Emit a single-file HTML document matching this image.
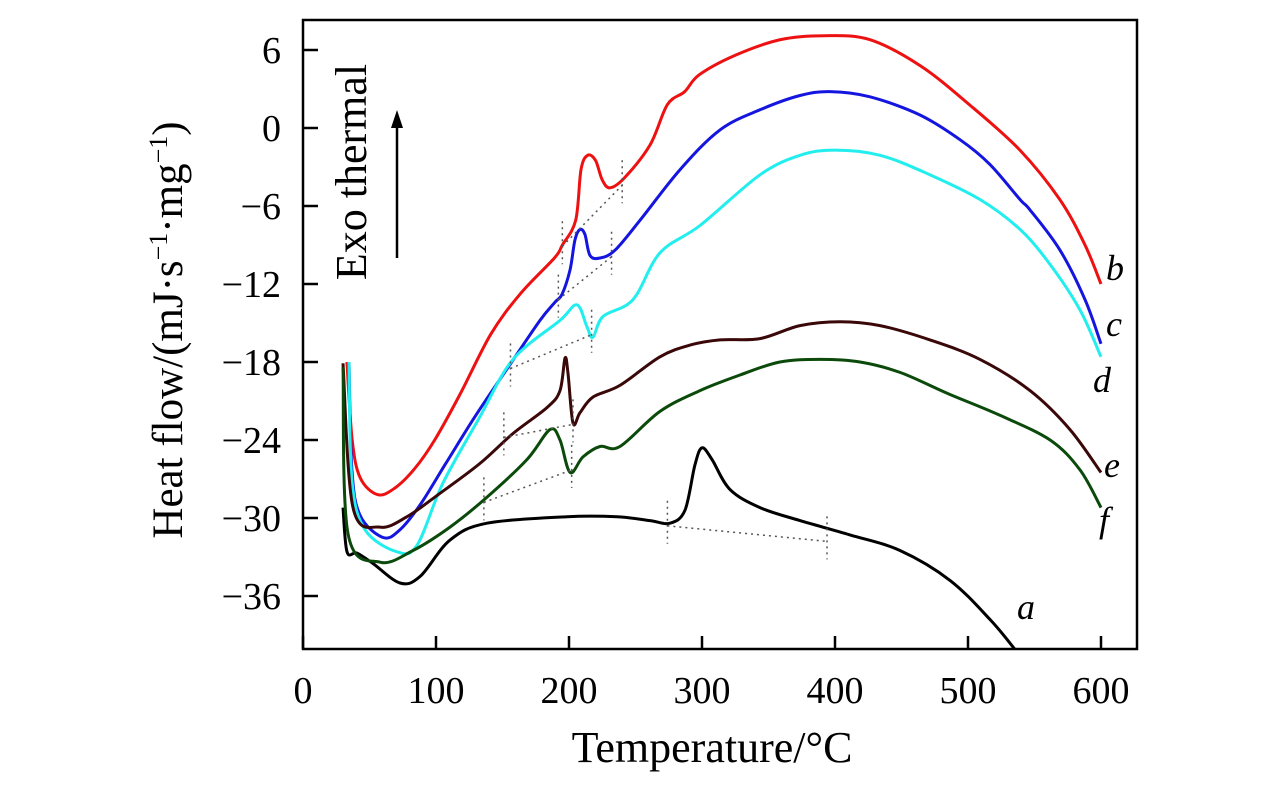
<!DOCTYPE html>
<html><head><meta charset="utf-8"><style>
html,body{margin:0;padding:0;background:#fff;}
svg{display:block;font-family:"Liberation Serif",serif;}
</style></head><body>
<svg id="chart" width="1276" height="787" viewBox="0 0 1276 787">
<defs><clipPath id="clip"><rect x="303" y="20" width="834" height="629"/></clipPath></defs>
<g id="grid"></g>
<g id="series" clip-path="url(#clip)"></g>
<g id="annot"></g>
</svg>
<script>
const xTicks=[0,100,200,300,400,500,600];
const yTicks=[6,0,-6,-12,-18,-24,-30,-36];
const yTickLabels=["6","0","\u22126","\u221212","\u221218","\u221224","\u221230","\u221236"];
const tA=[30.1,33.1,40.6,52.6,72.9,88,110.5,138.3,198.5,236.1,260.9,275.9,287.2,294.7,300,307.5,321,343.6,373.7,411.3,448.9,486.5,516.5,535.3];
const vA=[-29.2,-32.6,-32.7,-33.5,-35,-34.5,-31.7,-30.4,-29.9,-29.9,-30.2,-30.4,-29.4,-25.9,-24.6,-25.5,-27.8,-29.2,-30.2,-31.3,-32.5,-34.8,-37.8,-40.1];
const tB=[33,37,43,56,69,84,99,118,141,163,189,195,205,209,214,220,225,231,242,261,274,287,298,325,359,392,426,464,501,539,569,588,600];
const vB=[-18,-24,-26.9,-28.2,-27.7,-26.2,-24,-20.5,-15.9,-12.8,-10,-9,-7.1,-3.2,-2.1,-2.5,-4,-4.6,-3.8,-1.3,1.8,2.8,4.1,5.6,6.8,7.1,6.8,4.8,1.8,-1.7,-5.5,-9,-12];
const tC=[34.6,36.8,42.9,60.2,72.9,88,106.8,129.3,155.6,178.2,189.5,194.7,200.8,204.5,208.3,212,215.8,223.3,234.6,253.4,283.5,313.5,343.6,373.7,396.2,426.3,463.9,494,516.5,539.1,546.6,569.2,588,600];
const vC=[-18,-26.3,-29.8,-31.5,-30.9,-29,-25.9,-22.2,-18.2,-14.8,-13.4,-12.8,-10.9,-8.6,-7.8,-8.2,-9.8,-10,-9.4,-7.1,-3.2,-0.15,1.4,2.5,2.8,2.4,1,-0.9,-2.8,-5.5,-6.3,-9.4,-13.2,-16.6];
const tD=[34.6,36.8,46.6,70.7,85.7,105.3,133.1,157.9,193.2,206,213.5,218,225.6,248.1,268.4,298.5,343.6,373.7,400,433.8,471.4,509,539.1,561.7,584.2,600];
const vD=[-18,-27.1,-30.9,-32.6,-32.1,-27.3,-22.2,-17.8,-14.8,-13.6,-15.3,-16.1,-14.5,-13.2,-9.6,-7.5,-3.6,-2.1,-1.7,-2.1,-3.6,-5.5,-7.8,-10.5,-14,-17.6];
const tE=[30.1,37.6,57.9,78.2,103,133.1,157.9,183.5,193.2,197,199.2,203,208.3,218,238.3,268.4,291,313.5,343.6,373.7,403.8,433.8,471.4,509,546.6,576.7,600];
const vE=[-18.1,-29.2,-30.7,-29.9,-28.1,-25.8,-23.5,-21.5,-20.2,-17.7,-18.8,-22.7,-21.9,-20.7,-19.8,-17.6,-16.7,-16.3,-16.2,-15.2,-14.9,-15.2,-16.3,-17.8,-20.2,-23.2,-26.5];
const tF=[30.1,33.8,57.9,82.7,110.5,138.3,168.4,185.7,193.2,200.8,210.5,223.3,238.3,268.4,298.5,328.6,358.6,388.7,418.8,448.9,486.5,524,561.7,584.2,600];
const vF=[-18.4,-31.2,-33.4,-32.5,-30.7,-28.4,-25.5,-23.2,-24,-26.5,-25.3,-24.5,-24.5,-21.8,-20.2,-19,-18,-17.8,-18,-18.8,-20.5,-22.1,-24,-26.3,-29.2];
const markA=[274,-30.6,394,-31.8];
const markB=[195,-9.1,240,-4.4];
const markC=[192,-13.2,232,-9.9];
const markD=[156,-18.5,217,-15.9];
const markE=[151,-23.8,203,-22.8];
const markF=[136,-28.8,202,-26.3];

const X=t=>303+t*1.33;
const Y=v=>128-v*13.0;
const NS="http://www.w3.org/2000/svg";
function mk(tag,attrs,parent){const e=document.createElementNS(NS,tag);for(const k in attrs)e.setAttribute(k,attrs[k]);parent.appendChild(e);return e;}
function smooth(pts){
  let d='M'+pts[0][0].toFixed(1)+','+pts[0][1].toFixed(1);
  for(let i=0;i<pts.length-1;i++){
    const p0=pts[Math.max(0,i-1)],p1=pts[i],p2=pts[i+1],p3=pts[Math.min(pts.length-1,i+2)];
    const k=1/6;
    const c1=[p1[0]+(p2[0]-p0[0])*k,p1[1]+(p2[1]-p0[1])*k];
    const c2=[p2[0]-(p3[0]-p1[0])*k,p2[1]-(p3[1]-p1[1])*k];
    d+=' C'+c1[0].toFixed(1)+','+c1[1].toFixed(1)+' '+c2[0].toFixed(1)+','+c2[1].toFixed(1)+' '+p2[0].toFixed(1)+','+p2[1].toFixed(1);
  }
  return d;
}
const grid=document.getElementById('grid'),ser=document.getElementById('series'),an=document.getElementById('annot');

const frame=mk('rect',{x:303,y:20,width:834,height:629,fill:'none',stroke:'#000','stroke-width':2.5},grid);


xTicks.forEach(t=>{
  const l=mk('line',{x1:X(t),x2:X(t),y1:649,y2:636,stroke:'#000','stroke-width':2.5},grid);
  
  
  const tx=mk('text',{x:X(t),y:703,'text-anchor':'middle','font-size':38},grid);tx.textContent=t;
  
  
});
yTicks.forEach((v,i)=>{
  const l=mk('line',{x1:303,x2:318,y1:Y(v),y2:Y(v),stroke:'#000','stroke-width':2.5},grid);
  
  
  const tx=mk('text',{x:281,y:Y(v)+13,'text-anchor':'end','font-size':38},grid);tx.textContent=yTickLabels[i];
  
  
});
const xt=mk('text',{x:712,y:762,'text-anchor':'middle','font-size':44},grid);xt.textContent='Temperature/°C';


const yt=mk('text',{x:0,y:0,'text-anchor':'middle','font-size':43,transform:'translate(182,330) rotate(-90)'},grid);
yt.innerHTML='Heat flow/(mJ·s<tspan dy="-15" font-size="26">−1</tspan><tspan dy="15">·mg</tspan><tspan dy="-15" font-size="26">−1</tspan><tspan dy="15">)</tspan>';



const series=[[tA,vA,'#000','a',1017,619,'curve-a'],[tB,vB,'#ee1111','b',1106,280,'curve-b'],[tC,vC,'#1515e0','c',1106,336,'curve-c'],[tD,vD,'#22eeee','d',1093,392,'curve-d'],[tE,vE,'#3a0808','e',1104,477,'curve-e'],[tF,vF,'#0b4a0b','f',1099,532,'curve-f']];
series.forEach(s=>{
  const pts=s[0].map((t,i)=>[X(t),Y(s[1][i])]);
  const p=mk('path',{d:smooth(pts),fill:'none',stroke:s[2],'stroke-width':3,'stroke-linejoin':'round'},ser);
  
  
  const lb=mk('text',{x:s[4],y:s[5],'font-size':36,'font-style':'italic'},an);lb.textContent=s[3];
  
  
});
[markA,markB,markC,markD,markE,markF].forEach(m=>{
  const g=mk('g',{stroke:'#555','stroke-width':1.5,'stroke-dasharray':'2,4'},an);
  
  
  mk('line',{x1:X(m[0]),y1:Y(m[1]),x2:X(m[2]),y2:Y(m[3])},g);
  mk('line',{x1:X(m[0]),y1:Y(m[1])-25,x2:X(m[0]),y2:Y(m[1])+18},g);
  mk('line',{x1:X(m[2]),y1:Y(m[3])-25,x2:X(m[2]),y2:Y(m[3])+18},g);
});
const exo=mk('text',{x:0,y:0,'text-anchor':'middle','font-size':44,transform:'translate(366,172) rotate(-90)'},an);exo.textContent='Exo thermal';


const arr=mk('g',{},an);


mk('line',{x1:397,y1:258,x2:397,y2:122,stroke:'#000','stroke-width':2.5},arr);
mk('polygon',{points:'397,110 391,128 403,128',fill:'#000'},arr);
</script>
</body></html>
